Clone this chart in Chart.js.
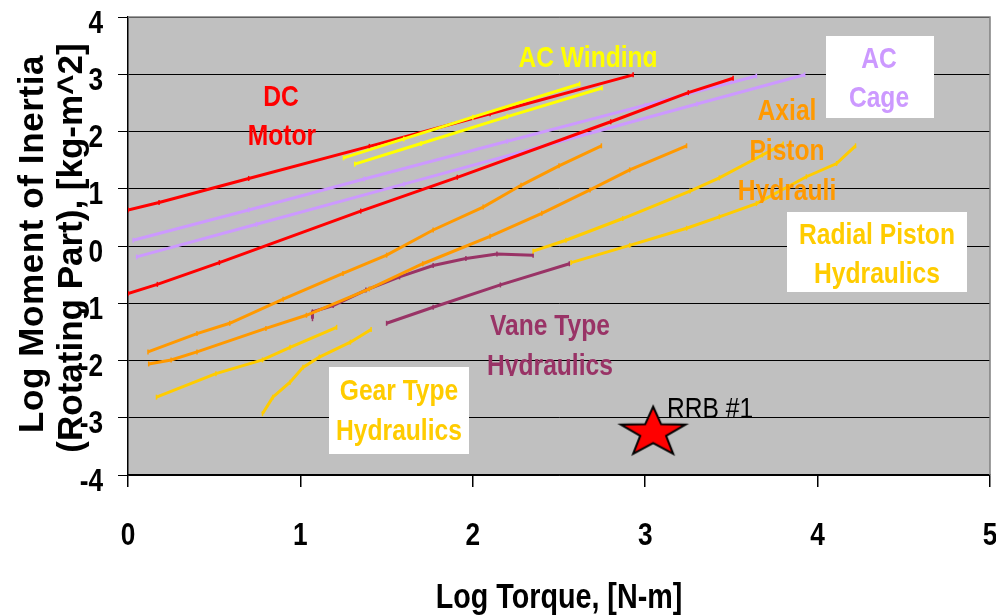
<!DOCTYPE html>
<html>
<head>
<meta charset="utf-8">
<script src="https://cdn.jsdelivr.net/npm/chart.js@4.4.1/dist/chart.umd.min.js"></script>
<style>
  html, body { margin: 0; padding: 0; background: #fff; }
  #wrap { width: 996px; height: 615px; }
</style>
</head>
<body>
<div id="wrap"><canvas id="inertia-chart" width="996" height="615"></canvas></div>
<script>
// log torque (x) vs log moment of inertia (y), one pair of arrays per curve
var dcUpperX = [0, 0.18, 0.70, 1.40, 2.10, 2.93];
var dcUpperY = [0.63, 0.76, 1.18, 1.74, 2.31, 2.99];
var dcLowerX = [0, 0.17, 0.53, 1.35, 1.91, 2.80, 3.25, 3.51];
var dcLowerY = [-0.83, -0.67, -0.29, 0.61, 1.20, 2.17, 2.68, 2.93];

var acWindUpperX = [1.25, 1.60, 2.00, 2.62];
var acWindUpperY = [1.54, 1.87, 2.25, 2.83];
var acWindLowerX = [1.315, 1.70, 2.20, 2.75];
var acWindLowerY = [1.43, 1.79, 2.26, 2.76];

var acCageUpperX = [0.03, 0.70, 1.37, 2.20, 3.00, 3.645];
var acCageUpperY = [0.10, 0.63, 1.17, 1.83, 2.46, 2.97];
var acCageLowerX = [0.05, 0.745, 1.60, 2.50, 3.30, 3.925];
var acCageLowerY = [-0.19, 0.38, 1.08, 1.82, 2.48, 2.99];

var axialUpperX = [0.116, 0.40, 0.59, 0.90, 1.247, 1.50, 1.77, 2.06, 2.28, 2.50, 2.746];
var axialUpperY = [-1.85, -1.53, -1.35, -0.93, -0.48, -0.16, 0.28, 0.68, 1.06, 1.40, 1.75];
var axialLowerX = [0.12, 0.25, 0.40, 0.80, 1.035, 1.40, 1.71, 2.10, 2.40, 2.68, 2.91, 3.24];
var axialLowerY = [-2.06, -1.99, -1.85, -1.44, -1.21, -0.75, -0.31, 0.17, 0.57, 0.98, 1.33, 1.75];

var radialUpperX = [2.35, 2.54, 2.87, 3.26, 3.43, 3.68, 3.80];
var radialUpperY = [-0.09, 0.10, 0.48, 0.96, 1.19, 1.59, 1.78];
var radialLowerX = [2.57, 2.91, 3.24, 3.43, 3.645, 3.935, 4.11, 4.22];
var radialLowerY = [-0.29, 0.01, 0.31, 0.51, 0.74, 1.21, 1.44, 1.75];

var vaneUpperX = [1.07, 1.07, 1.19, 1.38, 1.575, 1.77, 1.96, 2.14, 2.35];
var vaneUpperY = [-1.27, -1.15, -1.04, -0.77, -0.54, -0.34, -0.22, -0.14, -0.16];
var vaneLowerX = [1.50, 1.77, 2.16, 2.56];
var vaneLowerY = [-1.35, -1.07, -0.68, -0.31];

var gearAX = [0.165, 0.51, 0.78, 0.94, 1.21];
var gearAY = [-2.64, -2.23, -1.99, -1.77, -1.42];
var gearBX = [0.78, 0.84, 0.94, 1.015, 1.11, 1.29, 1.41];
var gearBY = [-2.93, -2.64, -2.38, -2.12, -1.94, -1.68, -1.46];

var rrbX = [3.046];
var rrbY = [-3.26];

var xTicks = [0, 1, 2, 3, 4, 5];
var yTicks = [-4, -3, -2, -1, 0, 1, 2, 3, 4];

var RED = '#FF0000', YELLOW = '#FFFF00', LAVENDER = '#CC99FF',
    ORANGE = '#FF9900', GOLD = '#FFCC00', VANE = '#993366';
var SANS = '"Liberation Sans", Arial, sans-serif';
var NARROW = 0.82; // horizontal squeeze, the original uses a narrow face

function pts(xs, ys) {
    return xs.map(function (x, i) { return { x: x, y: ys[i] }; });
}

function curve(xs, ys, color) {
    return {
        data: pts(xs, ys),
        showLine: true,
        borderColor: color,
        backgroundColor: color,
        borderWidth: 3,
        pointStyle: 'line',
        rotation: 90,
        pointRadius: 2.5,
        pointBorderWidth: 1.5,
        tension: 0
    };
}

// red five pointed star for the RRB #1 marker
function makeStar(rx, ry) {
    var c = document.createElement('canvas');
    c.width = Math.ceil(rx * 2 + 6);
    c.height = Math.ceil(ry * 2 + 6);
    var g = c.getContext('2d');
    var cx = c.width / 2, cy = c.height / 2;
    g.beginPath();
    for (var i = 0; i < 10; i++) {
        var a = -Math.PI / 2 + i * Math.PI / 5;
        var r = i % 2 === 0 ? 1 : 0.4;
        var px = cx + Math.cos(a) * rx * r;
        var py = cy + Math.sin(a) * ry * r;
        if (i === 0) g.moveTo(px, py); else g.lineTo(px, py);
    }
    g.closePath();
    g.fillStyle = RED;
    g.fill();
    g.lineWidth = 2;
    g.strokeStyle = '#000';
    g.stroke();
    return c;
}

// text squeezed horizontally around its anchor
function label(ctx, text, x, y, color, clip) {
    ctx.save();
    if (clip) {
        ctx.beginPath();
        ctx.rect(clip[0], clip[1], clip[2] - clip[0], clip[3] - clip[1]);
        ctx.clip();
    }
    ctx.fillStyle = color;
    ctx.translate(x, y);
    ctx.scale(NARROW, 1);
    ctx.fillText(text, 0, 0);
    ctx.restore();
}

var plotFrame = {
    id: 'plotFrame',
    beforeDraw: function (chart) {
        var a = chart.chartArea, ctx = chart.ctx;
        ctx.save();
        ctx.fillStyle = '#C0C0C0';
        ctx.fillRect(a.left, a.top, a.right - a.left, a.bottom - a.top);
        ctx.restore();
    },
    afterDraw: function (chart) {
        var a = chart.chartArea, ctx = chart.ctx;
        ctx.save();
        ctx.strokeStyle = '#808080';
        ctx.lineWidth = 1.5;
        ctx.beginPath();
        ctx.moveTo(a.left, a.top);
        ctx.lineTo(a.right, a.top);
        ctx.lineTo(a.right, a.bottom);
        ctx.stroke();

        // tick labels, placed from the scales
        var sx = chart.scales.x, sy = chart.scales.y;
        ctx.font = 'bold 32px ' + SANS;
        ctx.textBaseline = 'alphabetic';
        ctx.textAlign = 'center';
        sx.ticks.forEach(function (t) {
            label(ctx, String(t.value), sx.getPixelForValue(t.value), 545, '#000');
        });
        ctx.textAlign = 'right';
        sy.ticks.forEach(function (t) {
            label(ctx, String(t.value), 103, sy.getPixelForValue(t.value) + 15.5, '#000');
        });
        ctx.restore();
    }
};

var annotations = {
    id: 'annotations',
    afterDatasetsDraw: function (chart) {
        var ctx = chart.ctx;
        ctx.save();
        ctx.font = 'bold 30px ' + SANS;
        ctx.textAlign = 'center';
        ctx.textBaseline = 'alphabetic';

        label(ctx, 'DC', 281, 106, RED);
        label(ctx, 'Motor', 282, 145, RED);

        label(ctx, 'AC Winding', 588, 67, YELLOW, [0, 0, 996, 67]);

        ctx.fillStyle = '#fff';
        ctx.fillRect(826, 36, 108, 82);
        label(ctx, 'AC', 879, 68, LAVENDER);
        label(ctx, 'Cage', 879, 107, LAVENDER);

        label(ctx, 'Axial', 787, 120, ORANGE);
        label(ctx, 'Piston', 787, 160, ORANGE);
        label(ctx, 'Hydrauli', 787, 200, ORANGE, [0, 0, 837, 203]);

        ctx.fillStyle = '#fff';
        ctx.fillRect(787, 212, 180, 80);
        label(ctx, 'Radial Piston', 877, 244, GOLD);
        label(ctx, 'Hydraulics', 877, 283, GOLD);

        ctx.fillStyle = '#fff';
        ctx.fillRect(329, 367, 140, 87);
        label(ctx, 'Gear Type', 399, 400, GOLD);
        label(ctx, 'Hydraulics', 399, 440, GOLD);

        label(ctx, 'Vane Type', 550, 335, VANE);
        label(ctx, 'Hydraulics', 550, 375, VANE, [0, 0, 996, 376]);

        ctx.font = '30px ' + SANS;
        ctx.textAlign = 'left';
        label(ctx, 'RRB #1', 667, 418, '#000');
        ctx.restore();
    },
    afterDraw: function (chart) {
        var ctx = chart.ctx;
        ctx.save();
        ctx.fillStyle = '#000';
        ctx.textAlign = 'center';
        ctx.textBaseline = 'alphabetic';

        ctx.font = 'bold 35px ' + SANS;
        label(ctx, 'Log Torque, [N-m]', 559, 608, '#000');

        ctx.save();
        ctx.translate(43, 244);
        ctx.rotate(-Math.PI / 2);
        ctx.letterSpacing = '0.6px';
        ctx.fillText('Log Moment of Inertia', 0, 0);
        ctx.restore();

        ctx.save();
        ctx.translate(82, 248);
        ctx.rotate(-Math.PI / 2);
        ctx.letterSpacing = '0px';
        ctx.fillText('(Rotating Part), [kg-m^2]', 0, 0);
        ctx.restore();
        ctx.restore();
    }
};

var datasets = [
    curve(acWindUpperX, acWindUpperY, YELLOW),
    curve(acWindLowerX, acWindLowerY, YELLOW),
    curve(dcUpperX, dcUpperY, RED),
    curve(dcLowerX, dcLowerY, RED),
    curve(acCageUpperX, acCageUpperY, LAVENDER),
    curve(acCageLowerX, acCageLowerY, LAVENDER),
    curve(axialUpperX, axialUpperY, ORANGE),
    curve(axialLowerX, axialLowerY, ORANGE),
    curve(radialUpperX, radialUpperY, GOLD),
    curve(radialLowerX, radialLowerY, GOLD),
    curve(vaneUpperX, vaneUpperY, VANE),
    curve(vaneLowerX, vaneLowerY, VANE),
    curve(gearAX, gearAY, GOLD),
    curve(gearBX, gearBY, GOLD),
    {
        data: pts(rrbX, rrbY),
        showLine: false,
        pointStyle: makeStar(34, 26),
        pointRadius: 30
    }
];

var ctx = document.getElementById('inertia-chart').getContext('2d');
var myChart = new Chart(ctx, {
    type: 'scatter',
    data: { datasets: datasets },
    options: {
        responsive: false,
        animation: false,
        layout: {
            autoPadding: false,
            padding: { top: 17, right: 6, left: 0, bottom: 0 }
        },
        plugins: {
            legend: { display: false },
            tooltip: { enabled: false }
        },
        scales: {
            x: {
                type: 'linear',
                min: 0,
                max: 5,
                afterBuildTicks: function (scale) {
                    scale.ticks = xTicks.map(function (v) { return { value: v }; });
                },
                afterFit: function (scale) {
                    scale.height = 140;
                },
                ticks: { display: false },
                grid: {
                    drawOnChartArea: false,
                    drawTicks: true,
                    tickLength: 12,
                    color: '#000',
                    lineWidth: 1.5
                },
                border: { color: '#000', width: 1.5 }
            },
            y: {
                type: 'linear',
                min: -4,
                max: 4,
                afterBuildTicks: function (scale) {
                    scale.ticks = yTicks.map(function (v) { return { value: v }; });
                },
                afterFit: function (scale) {
                    scale.width = 128;
                },
                ticks: { display: false },
                grid: {
                    color: '#000',
                    lineWidth: 1,
                    drawTicks: true,
                    tickLength: 10
                },
                border: { color: '#000', width: 1.5 }
            }
        }
    },
    plugins: [plotFrame, annotations]
});
</script>
</body>
</html>
